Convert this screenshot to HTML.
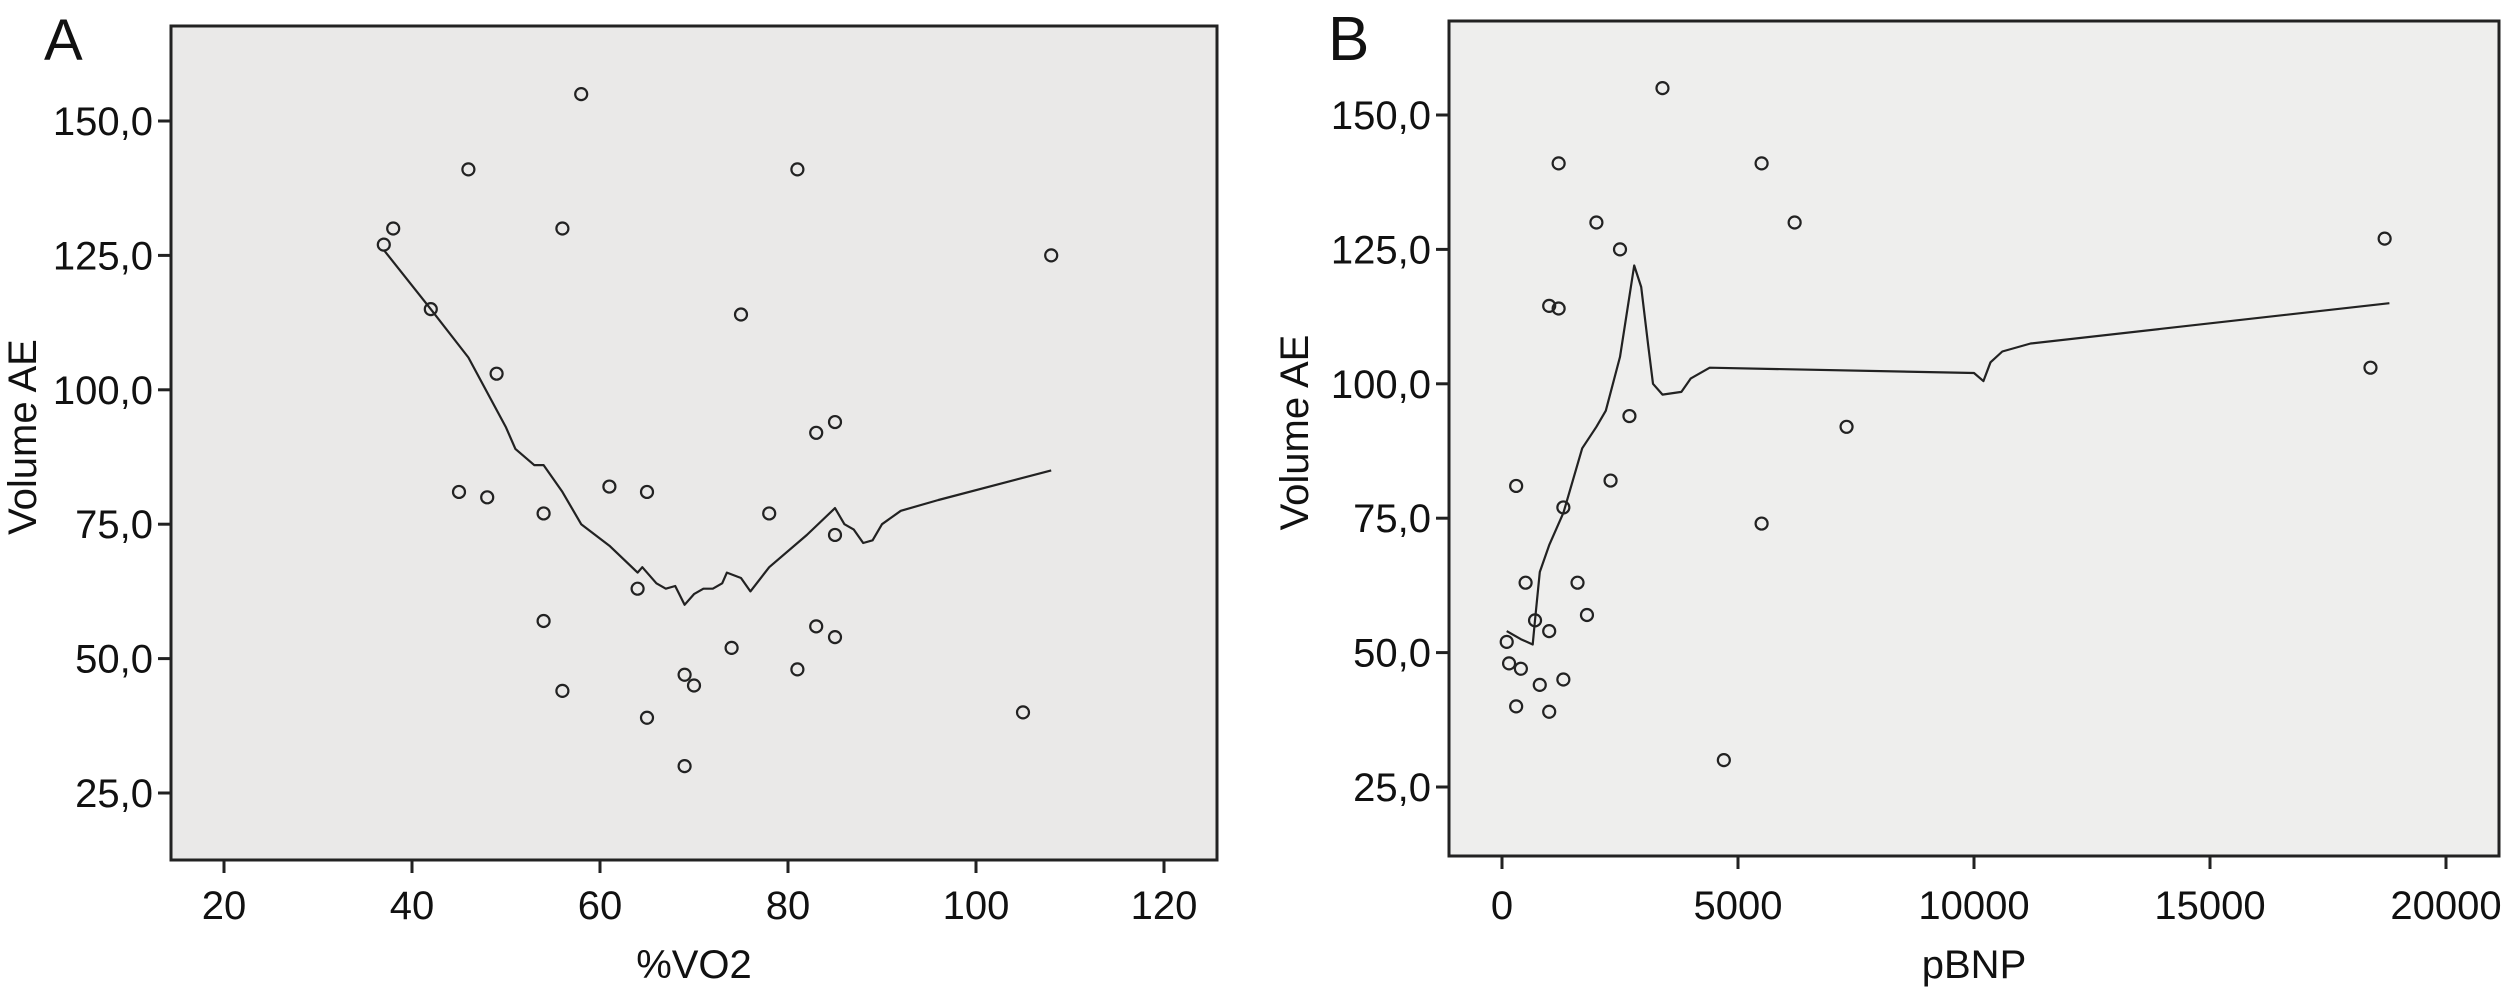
<!DOCTYPE html>
<html><head><meta charset="utf-8"><style>
html,body{margin:0;padding:0;background:#fff;}
svg{display:block;font-family:"Liberation Sans",sans-serif;}
</style></head><body>
<svg width="2502" height="989" viewBox="0 0 2502 989">
<g id="panelA"></g>
<g id="panelB"></g>
</svg>
<script>
const aPointsX = [37,38,42,46,49,45,48,54,54,56,56,58,61,65,64,65,69,70,69,74,75,78,81,81,83,83,85,85,85,105,108];
const aPointsY = [127,130,115,141,103,81,80,77,57,44,130,155,82,81,63,39,47,45,30,52,114,77,141,48,92,56,94,73,54,40,125];
const aLineX = [37,42,46,50,51,53,54,56,58,61,64,64.5,66,67,68,69,70,71,72,73,73.5,75,76,78,82,85,86,87,88,89,90,92,96,108];
const aLineY = [126,115,106,93,89,86,86,81,75,71,66,67,64,63,63.5,60,62,63,63,64,66,65,62.5,67,73,78,75,74,71.5,72,75,77.5,79.5,85];
const aXTicks = [20,40,60,80,100,120];
const yTicks = [25,50,75,100,125,150];
const yTickLabels = ["25,0","50,0","75,0","100,0","125,0","150,0"];
const bPointsX = [100,150,300,300,400,500,700,800,1000,1000,1000,1200,1200,1300,1300,1600,1800,2000,2300,2500,2700,3400,4700,5500,5500,6200,7300,18400,18700];
const bPointsY = [52,48,81,40,47,63,56,44,114.5,54,39,114,141,77,45,63,57,130,82,125,94,155,30,141,74,130,92,103,127];
const bLineX = [100,400,650,700,800,1000,1300,1500,1700,2000,2200,2500,2800,2950,3100,3200,3400,3800,4000,4400,10000,10200,10350,10600,11200,18800];
const bLineY = [54,52.5,51.5,56,65,70,76,82,88,92,95,105,122,118,107,100,98,98.5,101,103,102,100.5,104,106,107.5,115];
const bXTicks = [0,5000,10000,15000,20000];

const NS="http://www.w3.org/2000/svg";
function mk(parent,tag,attrs){const e=document.createElementNS(NS,tag);for(const k in attrs)e.setAttribute(k,attrs[k]);parent.appendChild(e);return e;}

function panel(g,cfg){
  const {L,R,T,B,xs,ys,bg}=cfg;
  const frame=mk(g,'rect',{x:L,y:T,width:R-L,height:B-T,fill:bg,stroke:'#222','stroke-width':3});
  
  
  yTicks.forEach((v,i)=>{
    const y=ys(v);
    const t=mk(g,'line',{x1:L-13,x2:L,y1:y,y2:y,stroke:'#222','stroke-width':3});
    
    
    const tx=mk(g,'text',{x:L-18,y:y+14,'font-size':40,'text-anchor':'end',fill:'#111'});
    tx.textContent=yTickLabels[i];
    
    
  });
  cfg.xt.forEach(v=>{
    const x=xs(v);
    const t=mk(g,'line',{x1:x,x2:x,y1:B,y2:B+13,stroke:'#222','stroke-width':3});
    
    
    const tx=mk(g,'text',{x:x,y:cfg.xly,'font-size':40,'text-anchor':'middle',fill:'#111'});
    tx.textContent=String(v);
    
    
  });
  const d=cfg.lx.map((v,i)=>(i?'L':'M')+xs(v).toFixed(1)+','+ys(cfg.ly[i]).toFixed(1)).join(' ');
  const p=mk(g,'path',{d:d,fill:'none',stroke:'#222','stroke-width':2.2,'stroke-linejoin':'round'});
  
  
  cfg.px.forEach((v,i)=>{
    const c=mk(g,'circle',{cx:xs(v),cy:ys(cfg.py[i]),r:6,fill:'none',stroke:'#222','stroke-width':2.2});
    
    
  });
  const yt=mk(g,'text',{x:0,y:0,'font-size':40,'text-anchor':'middle',fill:'#111',transform:`translate(${cfg.ytx},${(T+B)/2-6}) rotate(-90)`});
  yt.textContent='Volume AE';
  
  
  const xt=mk(g,'text',{x:cfg.xtx,y:cfg.xty,'font-size':40,'text-anchor':'middle',fill:'#111'});
  xt.textContent=cfg.xtitle;
  
  
  const lb=mk(g,'text',{x:cfg.lbx,y:cfg.lby,'font-size':cfg.lbs,fill:'#111'});
  lb.textContent=cfg.label;
  
  
}

panel(document.getElementById('panelA'),{
  L:171,R:1217,T:26,B:860,bg:'#eae9e8',
  xs:v=>224+(v-20)*9.4, ys:v=>793-(v-25)*5.376,
  xt:aXTicks,xly:919,lx:aLineX,ly:aLineY,px:aPointsX,py:aPointsY,
  ytx:36,xtx:694,xty:978,xtitle:'%VO2',label:'A',lbx:44,lby:60,lbs:58
});
panel(document.getElementById('panelB'),{
  L:1449,R:2499,T:21,B:856,bg:'#eeeeed',
  xs:v=>1502+v*0.0472, ys:v=>787-(v-25)*5.376,
  xt:bXTicks,xly:919,lx:bLineX,ly:bLineY,px:bPointsX,py:bPointsY,
  ytx:1308,xtx:1974,xty:978,xtitle:'pBNP',label:'B',lbx:1328,lby:60,lbs:62
});
</script>
</body></html>
